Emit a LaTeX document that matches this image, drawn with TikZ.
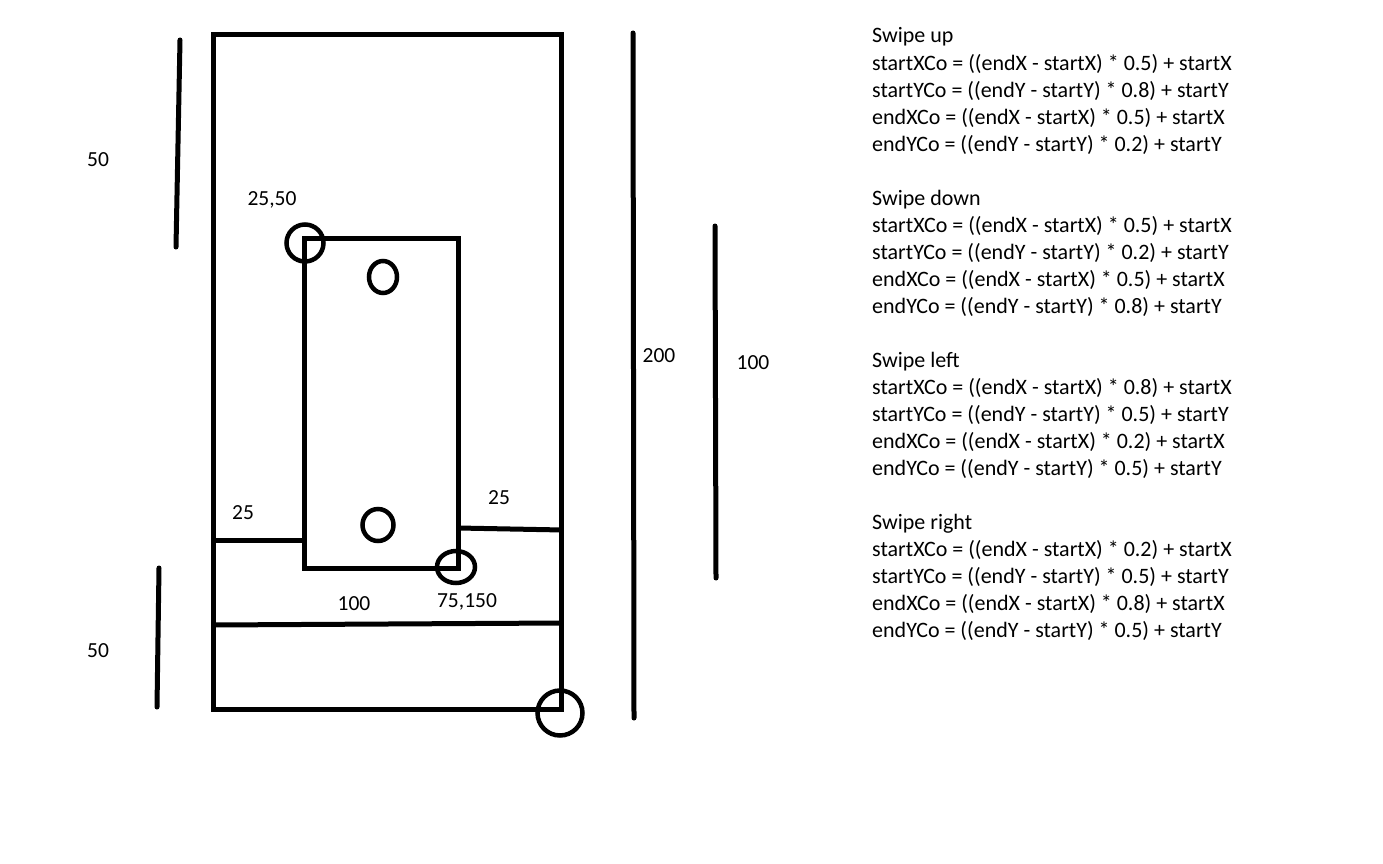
\documentclass[tikz,border=0pt]{standalone}
\usepackage{fontspec}
\setmainfont{Carlito}
\usetikzlibrary{shapes.geometric}

\tikzset{
  pen/.style={line width=5pt},
  stroke/.style={line width=5pt,line cap=round},
  dot/.style={ellipse,draw,line width=4.5pt,inner sep=0pt},
  lbl/.style={inner sep=0pt,font=\fontsize{21.5}{27}\selectfont},
  rule/.style={anchor=base west,inner sep=0pt,align=left,font=\fontsize{22}{27}\selectfont}
}

\begin{document}
\begin{tikzpicture}[x=1pt,y=-1pt]
  \useasboundingbox (0,0) rectangle (1383,864);

  % screen and button
  \coordinate (tl) at (213,35);
  \coordinate (br) at (561,709);
  \coordinate (btl) at (304,238);
  \coordinate (bbr) at (458,568);
  \draw[pen] (tl) rectangle (br);
  \draw[pen] (btl) rectangle (bbr);

  \coordinate (lgap) at (213,540);
  \coordinate (lbtn) at (304,540);
  \coordinate (rbtn) at (458,528);
  \coordinate (rgap) at (563,530);
  \coordinate (hl) at (213,625);
  \coordinate (hr) at (561,623);
  \draw[pen] (lgap) -- (lbtn);
  \draw[pen] (rbtn) -- (rgap);
  \draw[pen] (hl) -- (hr);

  % touch points
  \node[dot,minimum width=37pt,minimum height=37pt] (c1) at (305,243) {};
  \node[dot,minimum width=28pt,minimum height=32pt] (c2) at (383,277) {};
  \node[dot,minimum width=31pt,minimum height=32pt] (c3) at (378,525) {};
  \node[dot,minimum width=38pt,minimum height=32pt] (c4) at (456,567) {};
  \node[dot,minimum width=45pt,minimum height=45pt] (c5) at (560,713) {};

  % measures
  \coordinate (m1a) at (180,40);
  \coordinate (m1b) at (176,247);
  \coordinate (m2a) at (159,568);
  \coordinate (m2b) at (157,707);
  \coordinate (m3a) at (633,33);
  \coordinate (m3b) at (634,718);
  \coordinate (m4a) at (715,226);
  \coordinate (m4b) at (716,578);
  \draw[stroke] (m1a) -- (m1b);
  \draw[stroke] (m2a) -- (m2b);
  \draw[stroke] (m3a) -- (m3b);
  \draw[stroke] (m4a) -- (m4b);

  \node[lbl] (top50) at (98,160) {50};
  \node[lbl] (bot50) at (98,651) {50};
  \node[lbl] (h200) at (659,356) {200};
  \node[lbl] (h100) at (753,363) {100};
  \node[lbl] (pos1) at (272,200) {25,50};
  \node[lbl] (pos2) at (467,602) {75,150};
  \node[lbl] (lw25) at (243,513) {25};
  \node[lbl] (rw25) at (499,498) {25};
  \node[lbl] (w100) at (354,604) {100};

  % swipe formulas
  \node[rule] (up) at (872,151) {Swipe up\\
    startXCo = ((endX - startX) * 0.5) + startX\\
    startYCo = ((endY - startY) * 0.8) + startY\\
    endXCo = ((endX - startX) * 0.5) + startX\\
    endYCo = ((endY - startY) * 0.2) + startY};
  \node[rule] (down) at (872,313) {Swipe down\\
    startXCo = ((endX - startX) * 0.5) + startX\\
    startYCo = ((endY - startY) * 0.2) + startY\\
    endXCo = ((endX - startX) * 0.5) + startX\\
    endYCo = ((endY - startY) * 0.8) + startY};
  \node[rule] (left) at (872,475) {Swipe left\\
    startXCo = ((endX - startX) * 0.8) + startX\\
    startYCo = ((endY - startY) * 0.5) + startY\\
    endXCo = ((endX - startX) * 0.2) + startX\\
    endYCo = ((endY - startY) * 0.5) + startY};
  \node[rule] (right) at (872,637) {Swipe right\\
    startXCo = ((endX - startX) * 0.2) + startX\\
    startYCo = ((endY - startY) * 0.5) + startY\\
    endXCo = ((endX - startX) * 0.8) + startX\\
    endYCo = ((endY - startY) * 0.5) + startY};
\end{tikzpicture}
\end{document}
